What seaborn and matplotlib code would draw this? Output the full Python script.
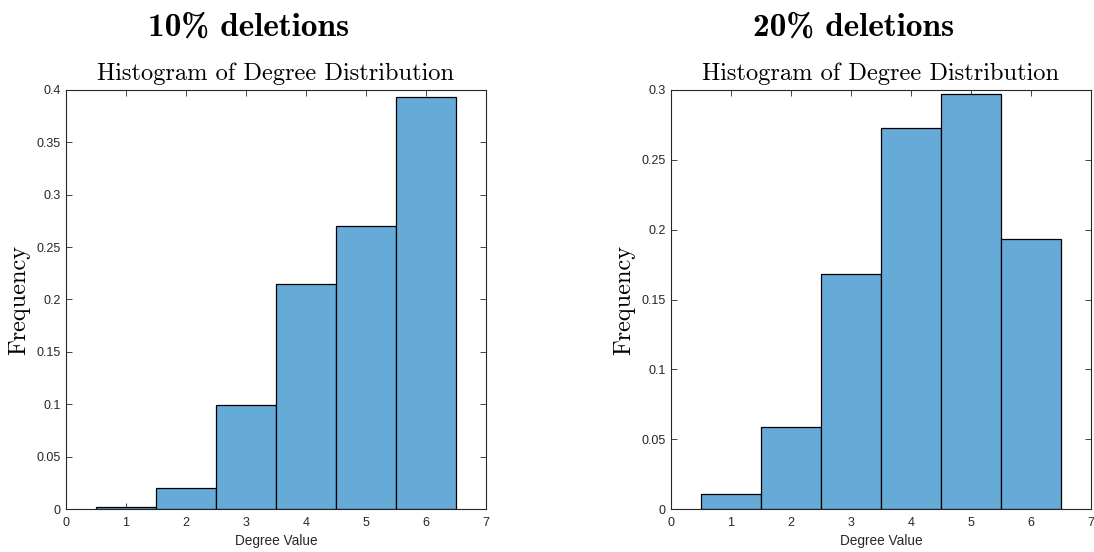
import numpy as np
import pandas as pd
import matplotlib
matplotlib.use("Agg")
import matplotlib.pyplot as plt
import seaborn as sns

# ---- data ----
degree_values = [1, 2, 3, 4, 5, 6]
freq_10 = [0.002, 0.020, 0.099, 0.215, 0.270, 0.393]
freq_20 = [0.011, 0.059, 0.168, 0.273, 0.297, 0.193]
bin_edges = [0.5, 1.5, 2.5, 3.5, 4.5, 5.5, 6.5]
panel_titles = ["10% deletions", "20% deletions"]
yticks_10 = [0, 0.05, 0.1, 0.15, 0.2, 0.25, 0.3, 0.35, 0.4]
yticks_20 = [0, 0.05, 0.1, 0.15, 0.2, 0.25, 0.3]
xticks = [0, 1, 2, 3, 4, 5, 6, 7]

sns.set_theme(style="white")
plt.rcParams['font.family'] = ['Liberation Sans', 'DejaVu Sans']

W, H = 1094, 552
fig = plt.figure(figsize=(W / 100, H / 100), dpi=100)

bar_color = '#66AAD7'
axis_color = '#262626'

def px_axes(x0, x1, y0, y1):
    return fig.add_axes([x0 / W, 1 - y1 / H, (x1 - x0) / W, (y1 - y0) / H])

panels = [
    (66, 486, freq_10, yticks_10, 0.4),
    (671, 1091, freq_20, yticks_20, 0.3),
]

for (x0, x1, freqs, yt, ymax), title in zip(panels, panel_titles):
    ax = px_axes(x0, x1, 90, 509)
    df = pd.DataFrame({'degree': degree_values, 'freq': freqs})
    sns.histplot(data=df, x='degree', weights='freq', bins=bin_edges, stat='count',
                 ax=ax, color=bar_color, edgecolor='black', linewidth=0.9, alpha=1.0)
    ax.set_xlim(0, 7)
    ax.set_ylim(0, ymax)
    ax.set_xticks(xticks)
    ax.set_xticklabels([str(v) for v in xticks])
    ax.set_yticks(yt)
    ax.set_yticklabels([('%g' % v) for v in yt])
    ax.tick_params(axis='both', which='both', direction='in', length=4, width=0.6,
                   colors=axis_color, labelsize=9, top=True, right=True,
                   bottom=True, left=True)
    ax.tick_params(axis='x', pad=6)
    ax.tick_params(axis='y', pad=4)
    for s in ax.spines.values():
        s.set_visible(True)
        s.set_color(axis_color)
        s.set_linewidth(0.8)
    ax.set_xlabel('Degree Value', fontsize=9.8, color=axis_color, labelpad=3)
    ax.set_ylabel('Frequency', fontsize=17.5, family='cmr10', color='black')
    ax.yaxis.set_label_coords(-36 / (x1 - x0), 0.5)
    ax.set_title('Histogram of Degree Distribution', fontsize=17.6, family='cmr10',
                 color='black', pad=7)
    fig.text(((x0 + x1) / 2 - 27) / W, 1 - 27 / H, title, ha='center', va='center',
             fontsize=24, family='cmb10', color='black')

fig.savefig('out.png', dpi=100)
